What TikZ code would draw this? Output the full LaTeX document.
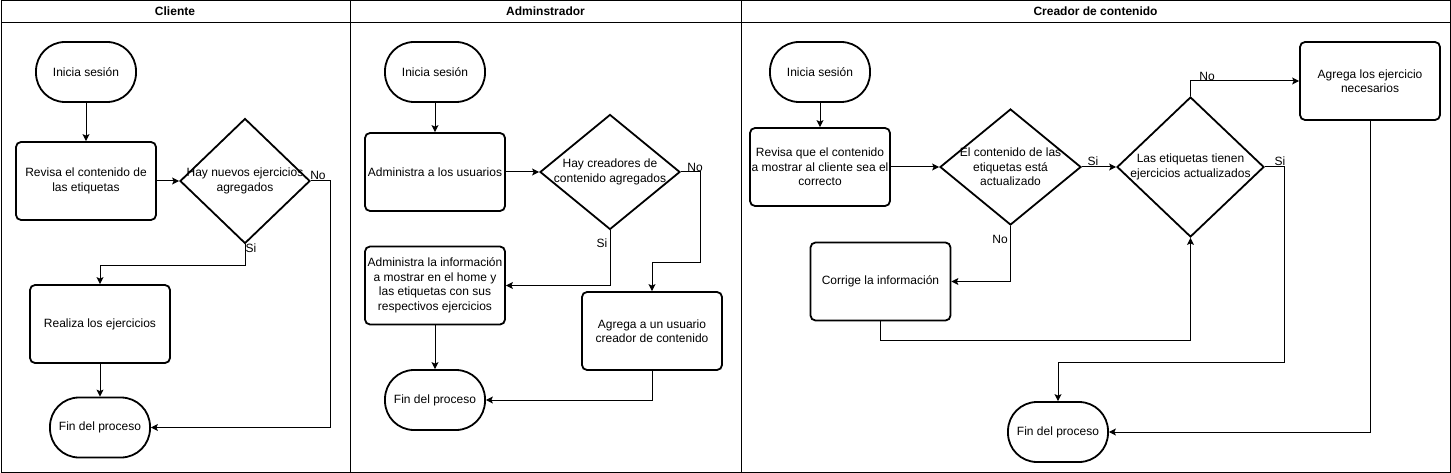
\documentclass[tikz,border=0pt]{standalone}
\usepackage{fontspec}
\setmainfont{Liberation Sans}
\usetikzlibrary{shapes,arrows.meta,positioning}

\begin{document}
\begin{tikzpicture}[
    x=1pt, y=-1pt,
    font=\fontsize{12}{14.5}\selectfont,
    terminal/.style={rectangle, draw, line width=1.8pt, rounded corners=29pt, minimum width=100pt, minimum height=60pt, inner sep=0pt},
    process/.style={rectangle, draw, line width=1.8pt, rounded corners=5pt, minimum width=140pt, minimum height=78pt, inner sep=0pt, align=center},
    decision/.style={diamond, draw, line width=1.8pt, inner sep=0pt},
    txt/.style={align=center, inner sep=0pt},
    lbl/.style={inner sep=0pt},
    arrow/.style={-{Stealth[length=7pt, width=7pt, inset=1.5pt]}, line width=1pt}
]
    \useasboundingbox (0,0) rectangle (1451,473);

    % Lanes
    \draw[line width=1pt] (1,1) rectangle (1450,472);
    \draw[line width=1pt] (1,23) -- (1450,23);
    \foreach \x in {350,741} {
        \draw[line width=1pt] (\x,1) -- (\x,472);
    }
    \foreach \n/\x/\t in {1/175/Cliente, 2/545.5/Adminstrador, 3/1095.5/Creador de contenido} {
        \node[font=\fontsize{12}{14.5}\selectfont\bfseries] (h\n) at (\x,11) {\t};
    }

    % Start and end
    \foreach \n/\x in {1/86, 2/435, 3/820} {
        \node[terminal] (ini\n) at (\x,72) {Inicia sesión};
    }
    \foreach \n/\x/\y in {1/100/427.5, 2/435/400, 3/1058/432} {
        \node[terminal] (fin\n) at (\x,\y) {Fin del proceso};
    }

    % Cliente
    \node[process] (rev1) at (86,181) {Revisa el contenido de\\las etiquetas};
    \node[decision, minimum width=130pt, minimum height=125pt] (d1) at (245,181) {};
    \node[txt] (d1t) at (d1) {Hay nuevos ejercicios\\agregados};
    \node[process] (rea1) at (100,324) {Realiza los ejercicios};
    \node[lbl] (no1) at (318,175) {No};
    \node[lbl] (si1) at (251,248) {Si};

    \draw[arrow] (ini1) -- (rev1);
    \draw[arrow] (rev1) -- (d1);
    \draw[arrow] (d1.south) -- ++(0,21) -| (rea1.north);
    \draw[arrow] (d1.east) -- ++(20,0) |- (fin1.east);
    \draw[arrow] (rea1) -- (fin1);

    % Adminstrador
    \node[process] (adm1) at (435,172) {Administra a los usuarios};
    \node[decision, minimum width=140pt, minimum height=115pt] (d2) at (610,172) {};
    \node[txt] (d2t) at (d2) {Hay creadores de\\contenido agregados};
    \node[process] (adm2) at (435,285.5) {Administra la información\\a mostrar en el home y\\las etiquetas con sus\\respectivos ejercicios};
    \node[process] (agr1) at (652,331) {Agrega a un usuario\\creador de contenido};
    \node[lbl] (no2) at (695,167) {No};
    \node[lbl] (si2) at (602,243) {Si};

    \draw[arrow] (ini2) -- (adm1);
    \draw[arrow] (adm1) -- (d2);
    \draw[arrow] (d2.east) -- ++(20,0) -- ++(0,90) -| (agr1.north);
    \draw[arrow] (d2.south) |- (adm2.east);
    \draw[arrow] (adm2) -- (fin2);
    \draw[arrow] (agr1.south) |- (fin2.east);

    % Creador de contenido
    \node[process] (rev3) at (820,167) {Revisa que el contenido\\a mostrar al cliente sea el\\correcto};
    \node[decision, minimum width=141pt, minimum height=116pt] (d3) at (1010.5,167) {};
    \node[txt] (d3t) at (d3) {El contenido de las\\etiquetas está\\actualizado};
    \node[decision, minimum width=147pt, minimum height=140pt] (d4) at (1190.5,167) {};
    \node[txt] (d4t) at (d4) {Las etiquetas tienen\\ejercicios actualizados};
    \node[process] (cor3) at (880.5,281.5) {Corrige la información};
    \node[process] (agr3) at (1370,81) {Agrega los ejercicio\\necesarios};
    \node[lbl] (si3) at (1093,161) {Si};
    \node[lbl] (no3) at (1000,239) {No};
    \node[lbl] (no4) at (1207,76) {No};
    \node[lbl] (si4) at (1280,161) {Si};

    \draw[arrow] (ini3) -- (rev3);
    \draw[arrow] (rev3) -- (d3);
    \draw[arrow] (d3) -- (d4);
    \draw[arrow] (d3.south) |- (cor3.east);
    \draw[arrow] (cor3.south) -- ++(0,19) -| (d4.south);
    \draw[arrow] (d4.north) |- (agr3.west);
    \draw[arrow] (d4.east) -- ++(20,0) -- ++(0,195) -| (fin3.north);
    \draw[arrow] (agr3.south) |- (fin3.east);
\end{tikzpicture}
\end{document}
